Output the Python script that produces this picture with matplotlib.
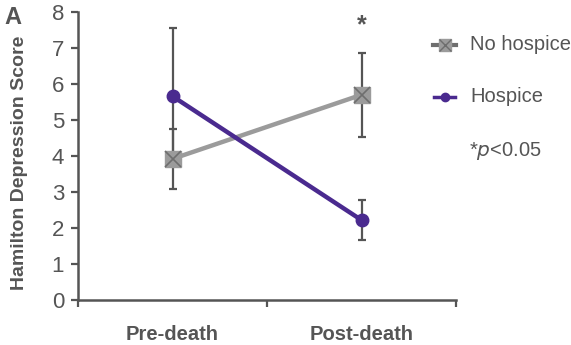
import numpy as np
import matplotlib.pyplot as plt

plt.rcParams['font.family'] = ['Liberation Sans', 'DejaVu Sans']

# data
groups = ['Pre-death', 'Post-death']
no_hospice = [3.92, 5.70]
no_hospice_err = [0.83, 1.17]
hospice = [5.66, 2.22]
hospice_err = [1.90, 0.55]

txt = '#555555'
grey = '#9b9b9b'
purple = '#4a2a8f'
bar_col = '#555555'

fig = plt.figure(figsize=(5.71, 3.45), dpi=100)
ax = fig.add_axes([78/571, 45/345, 378/571, 288/345])

x = np.array([0.5, 1.5])

ax.errorbar(x, no_hospice, yerr=no_hospice_err, fmt='none', ecolor=bar_col,
            elinewidth=1.6, capsize=3, capthick=1.6, zorder=2)
ax.errorbar(x, hospice, yerr=hospice_err, fmt='none', ecolor=bar_col,
            elinewidth=1.6, capsize=3, capthick=1.6, zorder=2)

ax.plot(x, no_hospice, color=grey, lw=3.2, zorder=3)
ax.plot(x, no_hospice, ls='none', marker='s', ms=12, mfc=grey, mec=grey, zorder=4)
ax.plot(x, no_hospice, ls='none', marker='x', ms=12, mec='#6e6e6e', mew=1.2, zorder=5)
ax.plot(x, hospice, color=purple, lw=3.2, marker='o', ms=9, mfc=purple, mec=purple, zorder=6)

ax.text(x[1], 7.3, '*', ha='center', va='bottom', fontsize=18, color=txt, fontweight='bold')

ax.set_xlim(0, 2)
ax.set_ylim(0, 8)
ax.set_xticks([0, 1, 2])
ax.set_xticklabels([])
ax.set_yticks(range(9))
ax.tick_params(axis='y', labelsize=16, colors=txt, length=5, width=1.6, direction='out', pad=5)
ax.tick_params(axis='x', length=5, width=1.6, color=txt, direction='out')
for i, g in enumerate(groups):
    ax.text(x[i], -0.95, g, ha='center', va='center', fontsize=14.5,
            fontweight='bold', color=txt)

for s in ['top', 'right']:
    ax.spines[s].set_visible(False)
for s in ['left', 'bottom']:
    ax.spines[s].set_color(txt)
    ax.spines[s].set_linewidth(1.8)

fig.text(20/571, 1 - 163/345, 'Hamilton Depression Score', rotation=90, fontsize=14,
         fontweight='bold', color=txt, ha='center', va='center')
fig.text(4/571, 1 - 17/345, 'A', fontsize=17, fontweight='bold', color=txt, va='center')

# legend
lx = fig.add_axes([0, 0, 1, 1], facecolor='none')
lx.set_xlim(0, 571)
lx.set_ylim(345, 0)
lx.axis('off')
lx.plot([433, 456], [45, 45], color='#6e6e6e', lw=3)
lx.plot([444.5], [45], marker='s', ms=8, mfc=grey, mec=grey)
lx.plot([444.5], [45], marker='x', ms=8, mec='#6e6e6e', mew=1)
lx.text(470, 45, 'No hospice', fontsize=14.5, color=txt, va='center')
lx.plot([434, 455], [97, 97], color=purple, lw=2.5, marker=None)
lx.plot([444.5], [97], marker='o', ms=6, mfc=purple, mec=purple)
lx.text(470, 97, 'Hospice', fontsize=14.5, color=txt, va='center')
lx.text(469, 151, '*$\\mathit{p}$<0.05', fontsize=14.5, color=txt, va='center')

fig.savefig('out.png', dpi=100)
